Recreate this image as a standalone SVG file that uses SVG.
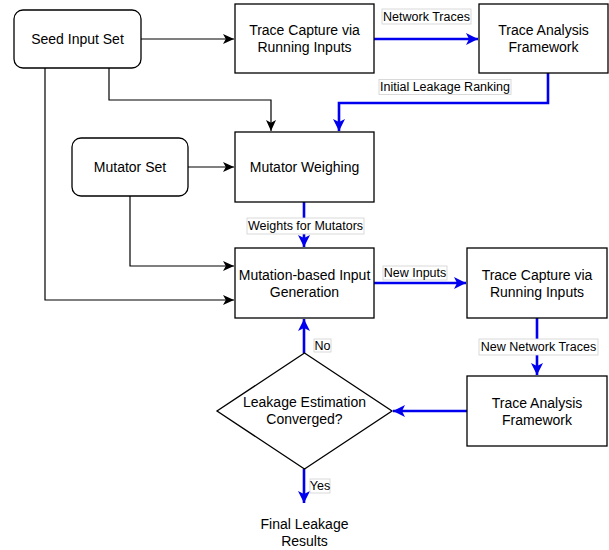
<svg xmlns="http://www.w3.org/2000/svg" width="609" height="550" viewBox="0 0 609 550">
<style>
.box{fill:#fff;stroke:#000;stroke-width:1.3}
.t{font-family:"Liberation Sans",Arial,sans-serif;font-size:14px;fill:#000;text-anchor:middle;dominant-baseline:central}
.lb{font-family:"Liberation Sans",Arial,sans-serif;font-size:12.5px;fill:#000;text-anchor:middle;dominant-baseline:central}
.lbg{fill:#fff;stroke:#d0d0d0;stroke-width:0.8}
.k{fill:none;stroke:#000;stroke-width:1.2}
.b{fill:none;stroke:#0000ee;stroke-width:2.6}
</style>
<defs>
<marker id="ak" markerUnits="userSpaceOnUse" markerWidth="13" markerHeight="13" viewBox="0 0 13 13" refX="12" refY="6.5" orient="auto">
<path d="M1,1.5 L12,6.5 L1,11.5 L3.8,6.5 Z" fill="#000"/>
</marker>
<marker id="ab" markerUnits="userSpaceOnUse" markerWidth="14" markerHeight="14" viewBox="0 0 14 14" refX="13" refY="7" orient="auto">
<path d="M1,1 L13,7 L1,13 L4,7 Z" fill="#0000ee"/>
</marker>
</defs>
<g id="connectors">
<path class="k" d="M141,39 H234" marker-end="url(#ak)"/>
<path class="b" d="M374,39 H478" marker-end="url(#ab)"/>
<path class="k" d="M109,68 V100 H271 V131" marker-end="url(#ak)"/>
<path class="b" d="M548,73 V103 H339 V131" marker-end="url(#ab)"/>
<path class="k" d="M45,68 V300 H234" marker-end="url(#ak)"/>
<path class="k" d="M188,167 H234" marker-end="url(#ak)"/>
<path class="k" d="M130,196 V266 H234" marker-end="url(#ak)"/>
<path class="b" d="M304,202 V247" marker-end="url(#ab)"/>
<path class="b" d="M374,283 H466" marker-end="url(#ab)"/>
<path class="b" d="M537,318 V375" marker-end="url(#ab)"/>
<path class="b" d="M467,411 H393" marker-end="url(#ab)"/>
<path class="b" d="M304,353 V319" marker-end="url(#ab)"/>
<path class="b" d="M304,469 V503" marker-end="url(#ab)"/>
<rect class="lbg" x="382" y="9" width="89" height="15"/>
<text class="lb" x="426.5" y="16.5">Network Traces</text>
<rect class="lbg" x="379" y="79.5" width="132" height="15"/>
<text class="lb" x="445" y="87">Initial Leakage Ranking</text>
<rect class="lbg" x="247" y="218" width="117" height="16"/>
<text class="lb" x="305.5" y="226">Weights for Mutators</text>
<rect class="lbg" x="383" y="266" width="64" height="14"/>
<text class="lb" x="415" y="273">New Inputs</text>
<rect class="lbg" x="479" y="339" width="119" height="16"/>
<text class="lb" x="538.5" y="347">New Network Traces</text>
<rect class="lbg" x="314" y="339" width="17" height="13"/>
<text class="lb" x="322.5" y="345.5">No</text>
<rect class="lbg" x="310" y="479" width="20" height="14"/>
<text class="lb" x="320" y="486">Yes</text>
</g>
<g id="seed">
<rect class="box" x="14" y="10" width="127" height="58" rx="9"/>
<text class="t" x="77.5" y="39">Seed Input Set</text>
</g>
<g id="capture1">
<rect class="box" x="235" y="4" width="139" height="69"/>
<text class="t" x="304.5" y="30">Trace Capture via</text>
<text class="t" x="304.5" y="47">Running Inputs</text>
</g>
<g id="analysis1">
<rect class="box" x="479" y="4" width="129" height="69"/>
<text class="t" x="543.5" y="30">Trace Analysis</text>
<text class="t" x="543.5" y="47">Framework</text>
</g>
<g id="mutatorset">
<rect class="box" x="72" y="138" width="116" height="58" rx="9"/>
<text class="t" x="130" y="167">Mutator Set</text>
</g>
<g id="weighing">
<rect class="box" x="235" y="132" width="139" height="70"/>
<text class="t" x="304.5" y="167">Mutator Weighing</text>
</g>
<g id="generation">
<rect class="box" x="235" y="248" width="139" height="70"/>
<text class="t" x="304.5" y="275">Mutation-based Input</text>
<text class="t" x="304.5" y="292">Generation</text>
</g>
<g id="capture2">
<rect class="box" x="467" y="248" width="140" height="70"/>
<text class="t" x="537" y="275">Trace Capture via</text>
<text class="t" x="537" y="292">Running Inputs</text>
</g>
<g id="analysis2">
<rect class="box" x="467" y="376" width="140" height="70"/>
<text class="t" x="537" y="403">Trace Analysis</text>
<text class="t" x="537" y="420">Framework</text>
</g>
<g id="decision">
<path class="box" d="M304.5,353 L392,411 L304.5,469 L217,411 Z"/>
<text class="t" x="304.5" y="402">Leakage Estimation</text>
<text class="t" x="304.5" y="419">Converged?</text>
</g>
<g id="final">
<text class="t" x="304.5" y="524">Final Leakage</text>
<text class="t" x="304.5" y="541">Results</text>
</g>
</svg>
